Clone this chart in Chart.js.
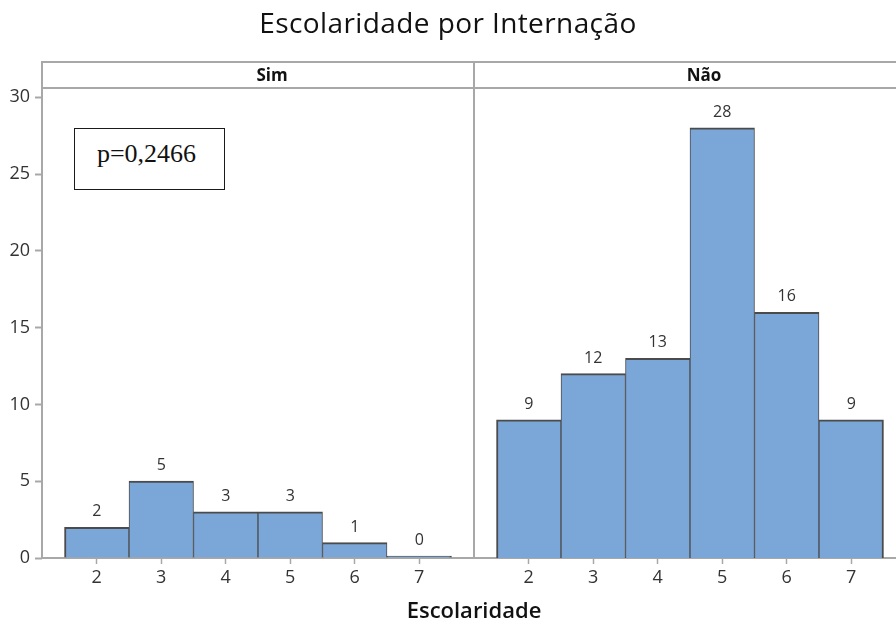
<!DOCTYPE html>
<html>
<head>
<meta charset="utf-8">
<title>Escolaridade por Internação</title>
<script src="https://cdn.jsdelivr.net/npm/chart.js@4/dist/chart.umd.min.js"></script>
<style>
  html, body { margin: 0; padding: 0; background: #fff; }
  body { position: relative; width: 896px; height: 623px; overflow: hidden; }
  .panel { position: absolute; top: 0; }
  #panelSim { left: 0; }
  #panelNao { left: 474px; }
  #title {
    position: absolute; left: 0; top: 3px; width: 896px; text-align: center;
    font: 28px "Open Sans", sans-serif; color: #111; line-height: normal;
    letter-spacing: 0.4px; padding-left: 0;
  }
  #xtitle {
    position: absolute; left: 42px; top: 594px; width: 864px; text-align: center;
    font: 600 22px "Open Sans", sans-serif; color: #111; line-height: normal;
  }
  #pbox {
    position: absolute; left: 74px; top: 128px; width: 151px; height: 62px;
    box-sizing: border-box; border: 1.5px solid #1a1a1a; background: #fff;
    font: 26px "Liberation Serif", "Times New Roman", serif; color: #111;
    text-align: center; line-height: 30px; padding: 10px 6px 0 0;
  }
</style>
</head>
<body>
<canvas id="panelSim" class="panel" width="476" height="623"></canvas>
<canvas id="panelNao" class="panel" width="432" height="623"></canvas>
<div id="title">Escolaridade por Internação</div>
<div id="xtitle">Escolaridade</div>
<div id="pbox">p=0,2466</div>

<script>
// Schooling levels and patient counts for each hospitalisation group
const categories = [2, 3, 4, 5, 6, 7];
const simCounts  = [2, 5, 3, 3, 1, 0];
const naoCounts  = [9, 12, 13, 28, 16, 9];
const yTickValues = [0, 5, 10, 15, 20, 25, 30];

// Look of the panels
const BAR_FILL   = '#7ba6d8';
const BAR_EDGE   = '#4b4b4b';
const FRAME_GREY = '#a8a8a8';
const TEXT_DARK  = '#333333';
const TICK_FONT  = '"Open Sans", sans-serif';
const STRIP_TOP  = 62;
const X_MIN = 1.151, X_MAX = 7.849;
const Y_MAX = 30.6;

// Header strip with the group name plus the panel frame lines
const panelStrip = {
  id: 'panelStrip',
  afterDraw(chart, args, opts) {
    const { ctx, chartArea: a } = chart;
    ctx.save();
    ctx.strokeStyle = FRAME_GREY;
    ctx.lineWidth = 2;
    ctx.beginPath();
    ctx.moveTo(a.left, STRIP_TOP); ctx.lineTo(a.right, STRIP_TOP);
    ctx.moveTo(a.left, a.top);     ctx.lineTo(a.right, a.top);
    if (opts.framed) {
      ctx.moveTo(a.left, STRIP_TOP - 1);  ctx.lineTo(a.left, a.bottom);
      ctx.moveTo(a.right, STRIP_TOP - 1); ctx.lineTo(a.right, a.bottom);
    }
    ctx.stroke();
    ctx.font = 'bold 17px "Open Sans", sans-serif';
    ctx.fillStyle = '#111';
    ctx.textAlign = 'center';
    ctx.textBaseline = 'middle';
    ctx.fillText(opts.name, (a.left + a.right) / 2 + 14, (STRIP_TOP + a.top) / 2 + 1);
    ctx.restore();
  }
};

// Count printed above every bar
const barValues = {
  id: 'barValues',
  afterDatasetsDraw(chart) {
    const { ctx } = chart;
    const meta = chart.getDatasetMeta(0);
    const points = chart.data.datasets[0].data;
    ctx.save();
    ctx.font = '16px "Open Sans", sans-serif';
    ctx.fillStyle = TEXT_DARK;
    ctx.textAlign = 'center';
    ctx.textBaseline = 'alphabetic';
    meta.data.forEach((bar, i) => {
      ctx.fillText(String(points[i].y), bar.x, bar.y - 11);
    });
    ctx.restore();
  }
};

function buildPanel(canvasId, name, counts, withYAxis) {
  const last = categories.length - 1;
  return new Chart(document.getElementById(canvasId), {
    type: 'bar',
    data: {
      datasets: [{
        data: categories.map((c, i) => ({ x: c, y: counts[i] })),
        backgroundColor: BAR_FILL,
        borderColor: BAR_EDGE,
        borderWidth: ctx => ({
          top: 2,
          left: ctx.dataIndex === 0 ? 2 : 1,
          right: ctx.dataIndex === last ? 2 : 1,
          bottom: 0
        }),
        borderSkipped: 'start',
        barPercentage: 1,
        categoryPercentage: 1,
        minBarLength: 2
      }]
    },
    options: {
      responsive: false,
      animation: false,
      devicePixelRatio: 1,
      layout: { padding: { top: 88, right: withYAxis ? 2 : 0, left: 0, bottom: 0 } },
      plugins: {
        legend: { display: false },
        tooltip: { enabled: false },
        panelStrip: { name: name, framed: withYAxis }
      },
      scales: {
        x: {
          type: 'linear',
          offset: false,
          min: X_MIN,
          max: X_MAX,
          afterBuildTicks: s => { s.ticks = categories.map(v => ({ value: v })); },
          afterFit: s => { s.height = 65; },
          grid: { offset: false, drawOnChartArea: false, drawTicks: true, tickLength: 6, tickColor: FRAME_GREY, tickWidth: 1.5 },
          border: { display: true, color: FRAME_GREY, width: 2 },
          ticks: { font: { family: TICK_FONT, size: 18 }, color: TEXT_DARK, padding: 3, maxRotation: 0, autoSkip: false }
        },
        y: {
          display: withYAxis,
          min: 0,
          max: Y_MAX,
          afterBuildTicks: s => { s.ticks = yTickValues.map(v => ({ value: v })); },
          afterFit: s => { s.width = withYAxis ? 42 : 0; },
          grid: { drawOnChartArea: false, drawTicks: true, tickLength: 7, tickColor: FRAME_GREY, tickWidth: 2 },
          border: { display: false },
          ticks: { font: { family: TICK_FONT, size: 18 }, color: TEXT_DARK, padding: 5 }
        }
      }
    },
    plugins: [panelStrip, barValues]
  });
}

buildPanel('panelSim', 'Sim', simCounts, true);
buildPanel('panelNao', 'Não', naoCounts, false);
</script>
</body>
</html>
